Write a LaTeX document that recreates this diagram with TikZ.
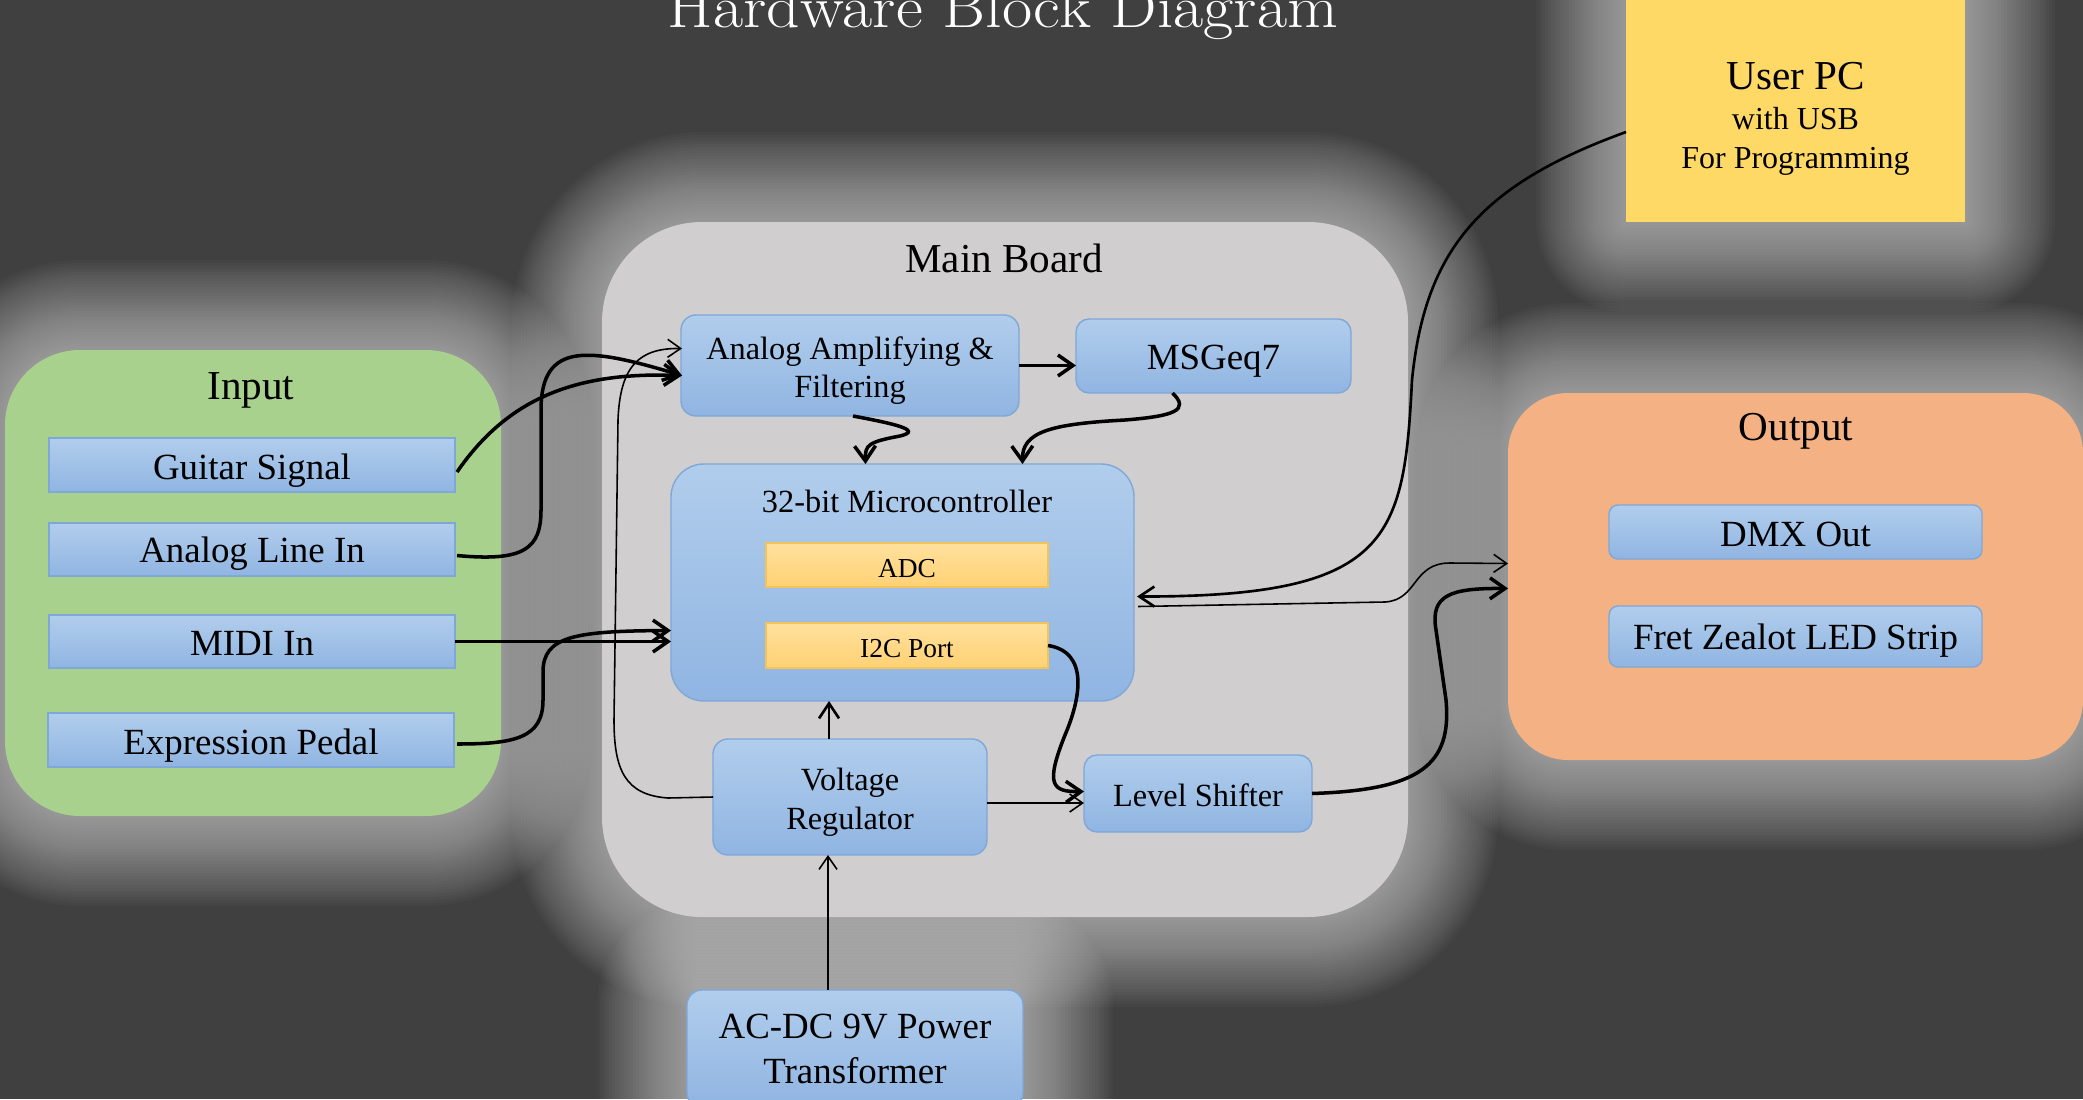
\documentclass[tikz,border=0pt]{standalone}
\usepackage{fontspec}
\setmainfont{Liberation Serif}
\usepackage{graphicx}
\usetikzlibrary{arrows.meta,calc}
\definecolor{bgc}{HTML}{404040}
\definecolor{ingreen}{HTML}{A9D18E}
\definecolor{mainbg}{HTML}{D0CECE}
\definecolor{outorange}{HTML}{F4B183}
\definecolor{pcyellow}{HTML}{FFD966}
\definecolor{bluetop}{HTML}{B1CDEC}
\definecolor{bluebot}{HTML}{90B5E2}
\definecolor{bluebd}{HTML}{7FA7D8}
\definecolor{orgtop}{HTML}{FFE19E}
\definecolor{orgbot}{HTML}{FFD173}
\definecolor{orgbd}{HTML}{F2C35A}
\newcommand{\glowbox}[5]{%
  \foreach \d in {0,3,...,90}{%
    \fill[white,opacity=0.022,rounded corners={(#5+90-\d)*0.1mm}]
      (#1-90+\d,#2-90+\d) rectangle (#3+90-\d,#4+90-\d);
  }%
}
\newcommand{\dn}[2][1.2pt]{\raisebox{-#1}[\height][\depth]{#2}}
\newcommand{\twol}[2]{\begin{tabular}{@{}c@{}}#1\\#2\end{tabular}}
\begin{document}
\begin{tikzpicture}[x=0.1mm,y=-0.1mm,
  grp/.style={draw=none,inner sep=0,outer sep=0},
  bluebox/.style={draw=bluebd,line width=0.4pt,top color=bluetop,bottom color=bluebot,
    inner sep=0,outer sep=0,align=center,font=\fontsize{10.5}{12.5}\selectfont},
  bluesm/.style={bluebox,font=\fontsize{9.2}{11}\selectfont},
  orgbox/.style={draw=orgbd,line width=0.4pt,top color=orgtop,bottom color=orgbot,
    inner sep=0,outer sep=0,align=center,font=\fontsize{7.8}{9}\selectfont},
  grplbl/.style={font=\fontsize{11.7}{14}\selectfont,inner sep=0},
  thk/.style={line width=1pt,-{Straight Barb[length=1.5mm,width=2.1mm]}},
  md/.style={line width=0.75pt,-{Straight Barb[length=1.5mm,width=2mm]}},
  thn/.style={line width=0.45pt,-{Straight Barb[length=1.3mm,width=1.8mm]}}
]
\useasboundingbox (0,0) rectangle (2083,1099);
\clip (0,0) rectangle (2083,1099);
\fill[bgc] (0,0) rectangle (2083,1099);

% glows
\glowbox{5}{350}{501}{816}{75}
\glowbox{602}{222}{1408}{917}{100}
\glowbox{1508}{393}{2083}{760}{60}
\glowbox{1626}{-10}{1965}{222}{0}
\glowbox{687}{990}{1023}{1108}{15}

% title
\node[anchor=base,text=white,inner sep=0,font=\fontfamily{lmr}\fontsize{17}{20}\selectfont] (title) at (1003,28) {\scalebox{1.1}[1]{Hardware Block Diagram}};

% groups
\node[grp,fill=ingreen,minimum width=49.6mm,minimum height=46.6mm,rounded corners=7.5mm] (inp) at (253,583) {};
\node[grp,fill=mainbg,minimum width=80.6mm,minimum height=69.5mm,rounded corners=10mm] (mainb) at (1005,569.5) {};
\node[grp,fill=outorange,minimum width=57.5mm,minimum height=36.7mm,rounded corners=6mm] (outg) at (1795.5,576.5) {};
\node[grp,fill=pcyellow,minimum width=33.9mm,minimum height=23.2mm] (pc) at (1795.5,106) {};

\node[grplbl] (inlbl) at (251,390) {Input};
\node[grplbl] (mainlbl) at (1004,258) {Main Board};
\node[grplbl] (outlbl) at (1796,431) {Output};

% user pc text
\node[grplbl] (pc1) at (1795.5,76) {User PC};
\node[inner sep=0,font=\fontsize{9.1}{11}\selectfont] (pc2) at (1795.5,119) {with USB};
\node[inner sep=0,font=\fontsize{9.1}{11}\selectfont] (pc3) at (1795.5,161) {For Programming};

% input boxes
\node[bluebox,minimum width=40.6mm,minimum height=5.4mm] (gs) at (252,465) {\dn[1.5pt]{Guitar Signal}};
\node[bluebox,minimum width=40.6mm,minimum height=5.3mm] (ali) at (252,549.5) {\dn{Analog Line In}};
\node[bluebox,minimum width=40.6mm,minimum height=5.3mm] (midi) at (252,641.5) {\dn[0.5pt]{MIDI In}};
\node[bluebox,minimum width=40.6mm,minimum height=5.4mm] (exp) at (251,740) {\dn[1.5pt]{Expression Pedal}};

% main board blocks
\node[bluesm,minimum width=33.8mm,minimum height=10.1mm,rounded corners=1.5mm] (amp) at (850,365.5) {\dn[1.5pt]{\twol{Analog Amplifying \&}{Filtering}}};
\node[bluebox,minimum width=27.5mm,minimum height=7.4mm,rounded corners=1.3mm] (msg) at (1213.5,356) {\dn[1.4pt]{MSGeq7}};
\node[bluebox,minimum width=46.3mm,minimum height=23.7mm,rounded corners=3.3mm] (mcu) at (902.5,582.5) {};
\node[inner sep=0,font=\fontsize{9.2}{11}\selectfont] (mculbl) at (907,501) {32-bit Microcontroller};
\node[orgbox,minimum width=28.2mm,minimum height=4.4mm] (adc) at (907,565) {\dn[1pt]{ADC}};
\node[orgbox,minimum width=28.2mm,minimum height=4.5mm] (i2c) at (907,645.5) {\dn[0.8pt]{I2C Port}};
\node[bluesm,minimum width=27.4mm,minimum height=11.6mm,rounded corners=1.5mm] (vr) at (850,797) {\dn[1.5pt]{\twol{Voltage}{Regulator}}};
\node[bluesm,minimum width=22.8mm,minimum height=7.7mm,rounded corners=1.3mm] (ls) at (1198,793.5) {\dn[0.5pt]{Level Shifter}};

% power
\node[bluebox,font=\fontsize{10.5}{12.6}\selectfont,minimum width=33.6mm,minimum height=11.8mm,rounded corners=1.5mm] (acdc) at (855,1049) {\dn[0.9pt]{\twol{AC-DC 9V Power}{Transformer}}};

% output boxes
\node[bluebox,minimum width=37.3mm,minimum height=5.4mm,rounded corners=0.9mm] (dmx) at (1795.5,532) {\dn[0.8pt]{DMX Out}};
\node[bluebox,minimum width=37.3mm,minimum height=6.1mm,rounded corners=0.9mm] (fz) at (1795.5,636.5) {\dn{Fret Zealot LED Strip}};

% connectors: inputs
\draw[thk] ($(gs.east)+(2,7)$) .. controls (510,395) and (580,372) .. ($(amp.west)+(1,10)$);
\draw[thk] ($(ali.east)+(2,6)$) .. controls (525,562) and (541,548) .. (541,510) -- (541,410)
  .. controls (541,340) and (590,348) .. ($(amp.west)+(1,10)$);
\draw[thk] (midi.east) -- (midi.east -| mcu.west);
\draw[thk] ($(exp.east)+(3,4)$) .. controls (515,744) and (543,738) .. (543,700) -- (543,672)
  .. controls (543,636) and (575,631) .. ($(mcu.west)+(0,48)$);

% voltage regulator to amp (thin)
\draw[thn] (vr.west) -- (668,798) .. controls (625,795) and (614,770) .. (614,720) -- (618,420)
  .. controls (620,365) and (640,348) .. ($(amp.west)+(1,-17)$);

% amp -> msgeq7
\draw[thk] (amp.east) -- (amp.east -| msg.west);
% amp -> mcu squiggle
\draw[thk] ($(amp.south)+(3,0)$) .. controls (890,423) and (925,430) .. (900,436)
  .. controls (868,442) and (865,445) .. ($(mcu.north)+(-37,0)$);
% msgeq7 -> mcu
\draw[thk] ($(msg.south)+(-41,0)$) .. controls (1190,410) and (1175,416) .. (1125,420)
  .. controls (1050,424) and (1022,432) .. ($(mcu.north)+(120,0)$);

% vr -> mcu
\coordinate (vrtop) at ($(vr.north)+(-21,0)$);
\draw[md] (vrtop) -- (vrtop |- mcu.south);
% vr -> level shifter
\coordinate (vre) at ($(vr.east)+(0,6)$);
\draw[thn] (vre) -- (vre -| ls.west);
% i2c -> level shifter
\draw[thk] (i2c.east) .. controls (1090,652) and (1080,700) .. (1065,735)
  .. controls (1045,785) and (1052,792) .. ($(ls.west)+(0,-2)$);
% acdc -> vr
\coordinate (act) at ($(acdc.north)+(-27,0)$);
\draw[thn] (act) -- (act |- vr.south);

% user pc -> mcu
\draw[md] ($(pc.west)+(0,26)$) .. controls (1480,185) and (1425,250) .. (1412,380)
  .. controls (1404,540) and (1390,597) .. ($(mcu.east)+(3,14)$);
% mcu -> output (thin)
\draw[thn] ($(mcu.east)+(4,24)$) -- (1385,602) .. controls (1418,600) and (1412,563) .. (1450,563)
  -- ($(outg.west)+(0,-13)$);
% level shifter -> output
\draw[thk] (ls.east) .. controls (1420,790) and (1452,765) .. (1446,700) -- (1436,630)
  .. controls (1430,595) and (1450,588) .. ($(outg.west)+(0,12)$);
\end{tikzpicture}
\end{document}
